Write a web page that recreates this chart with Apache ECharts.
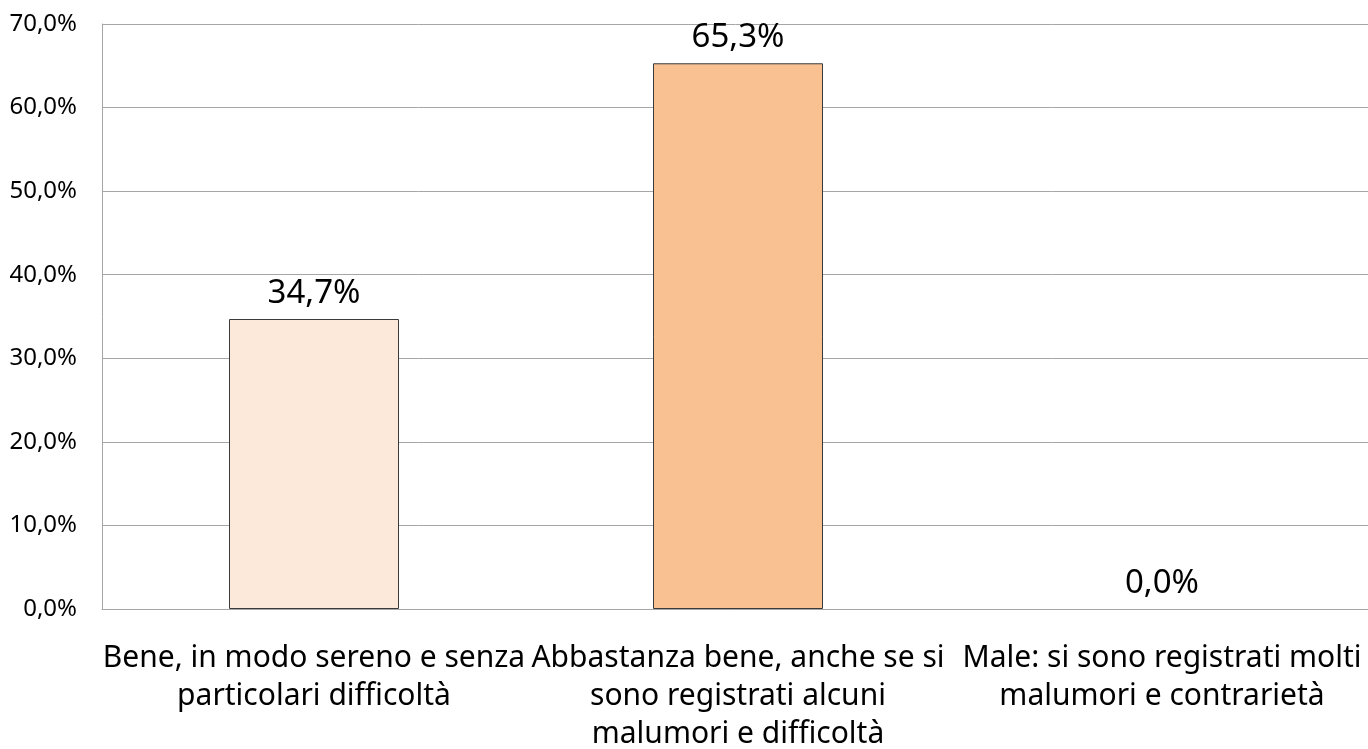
<!DOCTYPE html>
<html>
<head>
<meta charset="utf-8">
<script src="https://cdn.jsdelivr.net/npm/echarts@6/dist/echarts.min.js"></script>
<style>
html,body{margin:0;padding:0;background:#fff;overflow:hidden;}
#c{width:1368px;height:749px;}
</style>
</head>
<body>
<div id="c"></div>
<script>
const categories = [
  "Bene, in modo sereno e senza\nparticolari difficoltà",
  "Abbastanza bene, anche se si\nsono registrati alcuni\nmalumori e difficoltà",
  "Male: si sono registrati molti\nmalumori e contrarietà"
];
const values = [34.7, 65.3, 0.0];
const barColors = ["#FCE9DA", "#F9C091", "#F5A45F"];

const fmt = v => v.toFixed(1).replace('.', ',') + '%';
const FONT = "'Noto Sans', 'Open Sans', sans-serif";

const chart = echarts.init(document.getElementById('c'), null, {renderer: 'canvas'});
chart.setOption({
  animation: false,
  backgroundColor: '#ffffff',
  grid: {left: 102, right: -6, top: 24, bottom: 140, containLabel: false, outerBoundsMode: 'none'},
  xAxis: {
    type: 'category',
    data: categories,
    axisLine: {show: true, lineStyle: {color: '#A6A6A6', width: 1}},
    axisTick: {show: false},
    axisLabel: {
      interval: 0,
      margin: 30,
      color: '#000',
      fontFamily: FONT,
      fontSize: 30,
      lineHeight: 38,
      verticalAlign: 'top'
    }
  },
  yAxis: {
    type: 'value',
    min: 0, max: 70, interval: 10,
    axisLine: {show: true, lineStyle: {color: '#A6A6A6', width: 1}},
    axisTick: {show: false},
    splitLine: {show: true, lineStyle: {color: '#A6A6A6', width: 1}},
    axisLabel: {
      formatter: fmt,
      color: '#000',
      fontFamily: FONT,
      fontSize: 24,
      margin: 25
    }
  },
  series: [{
    type: 'bar',
    data: values.map((v, i) => ({
      value: v,
      itemStyle: {color: barColors[i], borderWidth: v > 0 ? 1 : 0}
    })),
    barWidth: 170,
    itemStyle: {borderColor: '#3A3A3A', borderWidth: 1},
    label: {
      show: true,
      position: 'top',
      distance: 9,
      formatter: p => fmt(p.value),
      color: '#000',
      fontFamily: FONT,
      fontSize: 33
    }
  }]
});
</script>
</body>
</html>
